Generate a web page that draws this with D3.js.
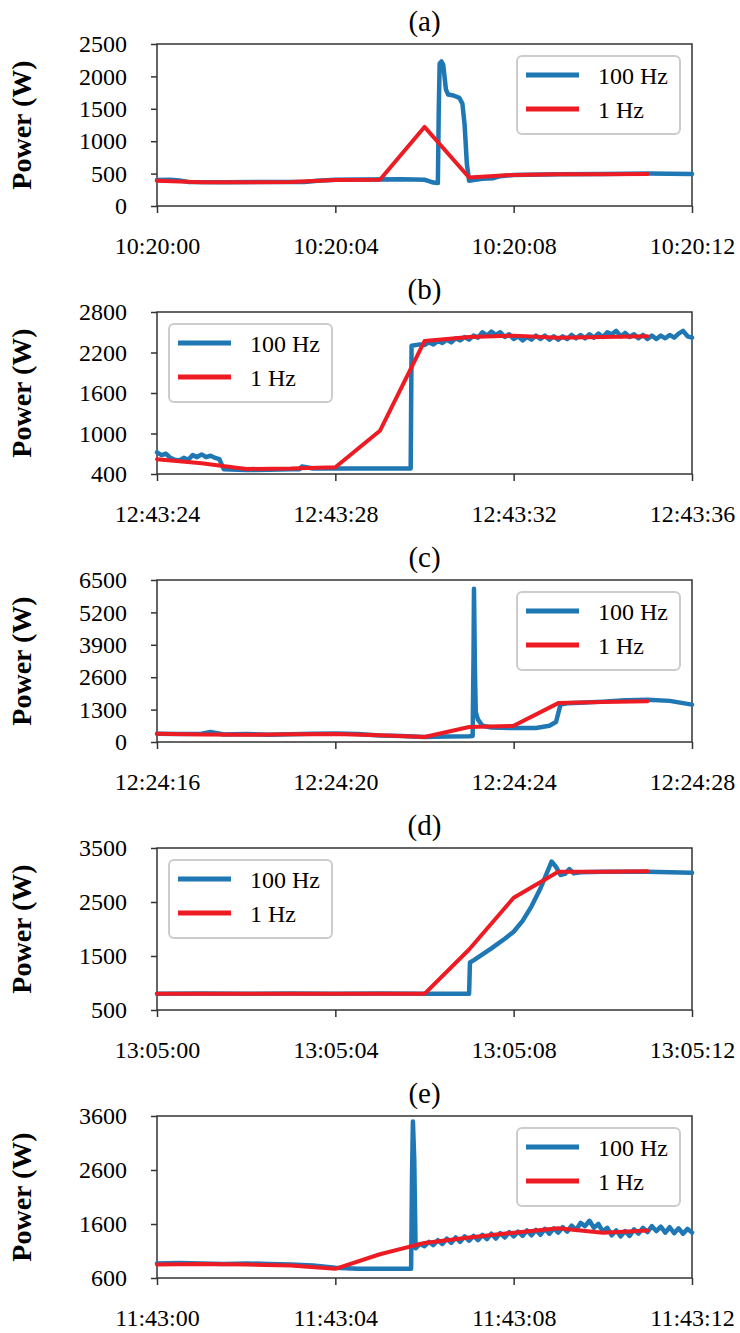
<!DOCTYPE html>
<html>
<head>
<meta charset="utf-8">
<script src="https://cdn.jsdelivr.net/npm/d3@7"></script>
<style>
    body { margin: 0; background: #ffffff; }
    svg { display: block; font-family: "Liberation Serif", "Times New Roman", serif; }
</style>
</head>
<body>
<div id="chart"></div>
<script>
// seconds from first tick, watts
var panelNames = ["(a)", "(b)", "(c)", "(d)", "(e)"];
var seriesNames = ["100 Hz", "1 Hz"];

var aTicksX = ["10:20:00", "10:20:04", "10:20:08", "10:20:12"];
var aTicksY = [0, 500, 1000, 1500, 2000, 2500];
var a100 = [[0, 400], [0.3, 405], [0.5, 395], [0.7, 372], [1.5, 368], [2.5, 370], [3.3, 372], [3.6, 390], [4.0, 405],
    [4.5, 410], [5.5, 412], [6.0, 405], [6.1, 385], [6.2, 362], [6.3, 355], [6.32, 1500], [6.34, 2200], [6.38, 2230],
    [6.42, 2180], [6.48, 1800], [6.53, 1720], [6.65, 1705], [6.78, 1670], [6.85, 1580], [6.9, 1250], [6.95, 650],
    [7.0, 390], [7.1, 400], [7.3, 420], [7.55, 430], [7.7, 460], [8.0, 480], [9.0, 490], [10, 495], [11, 500], [12, 495]];
var a1 = [[0, 390], [1, 365], [2, 365], [3, 370], [4, 400], [5, 405], [6, 1220], [7, 440], [8, 480], [9, 490], [10, 490], [11, 495]];

var bTicksX = ["12:43:24", "12:43:28", "12:43:32", "12:43:36"];
var bTicksY = [400, 1000, 1600, 2200, 2800];
var b100 = [[0, 720], [0.1, 680], [0.2, 700], [0.3, 640], [0.4, 610], [0.5, 600], [0.6, 640], [0.7, 610], [0.8, 680],
    [0.9, 650], [1.0, 690], [1.1, 650], [1.2, 670], [1.3, 640], [1.4, 620], [1.45, 540], [1.5, 470], [2.0, 460],
    [2.5, 462], [3.0, 470], [3.2, 472], [3.25, 510], [3.35, 500], [3.5, 482], [4, 482], [5, 482], [5.69, 482],
    [5.71, 2300], [5.9, 2320],
    [6.0, 2310], [6.1, 2350], [6.2, 2320], [6.3, 2370], [6.4, 2340], [6.5, 2390], [6.6, 2350], [6.7, 2410], [6.8, 2380],
    [6.9, 2430], [7.0, 2390], [7.1, 2450], [7.2, 2420], [7.3, 2500], [7.4, 2450], [7.5, 2510], [7.6, 2460], [7.7, 2500],
    [7.8, 2430], [7.9, 2470], [8.0, 2400], [8.1, 2440], [8.2, 2380], [8.3, 2430], [8.4, 2390], [8.5, 2450], [8.6, 2400],
    [8.7, 2450], [8.8, 2390], [8.9, 2440], [9.0, 2390], [9.1, 2440], [9.2, 2400], [9.3, 2460], [9.4, 2410], [9.5, 2460],
    [9.6, 2410], [9.7, 2470], [9.8, 2420], [9.9, 2480], [10.0, 2430], [10.1, 2500], [10.2, 2470], [10.3, 2520],
    [10.4, 2440], [10.5, 2490], [10.6, 2430], [10.7, 2470], [10.8, 2410], [10.9, 2460], [11.0, 2400], [11.1, 2450],
    [11.2, 2400], [11.3, 2450], [11.4, 2410], [11.5, 2460], [11.6, 2420], [11.7, 2480], [11.8, 2520], [11.9, 2440],
    [12.0, 2420]];
var b1 = [[0, 620], [1, 560], [2, 475], [3, 480], [4, 500], [5, 1040], [6, 2370], [7, 2430], [8, 2450], [9, 2420], [10, 2430], [11, 2440]];

var cTicksX = ["12:24:16", "12:24:20", "12:24:24", "12:24:28"];
var cTicksY = [0, 1300, 2600, 3900, 5200, 6500];
var c100 = [[0, 330], [0.5, 320], [1.0, 330], [1.2, 400], [1.5, 300], [2.0, 320], [2.5, 290], [3.0, 310], [3.5, 330],
    [4.0, 340], [4.5, 320], [5.0, 260], [5.5, 240], [6.0, 200], [6.5, 220], [7.0, 230], [7.08, 240], [7.1, 3500],
    [7.11, 6150], [7.13, 3000], [7.15, 1200], [7.2, 900], [7.3, 650], [7.5, 580], [8.0, 560], [8.5, 560], [8.8, 650],
    [8.95, 800], [9.05, 1500], [9.2, 1550], [9.5, 1570], [10, 1620], [10.5, 1680], [11, 1700], [11.5, 1650], [12, 1500]];
var c1 = [[0, 330], [1, 300], [2, 290], [3, 310], [4, 320], [5, 270], [6, 200], [7, 600], [8, 650], [9, 1560], [10, 1600], [11, 1640]];

var dTicksX = ["13:05:00", "13:05:04", "13:05:08", "13:05:12"];
var dTicksY = [500, 1500, 2500, 3500];
var d100 = [[0, 800], [1, 805], [2, 800], [3, 805], [4, 800], [5, 805], [6, 800], [7.0, 800], [7.02, 1380], [7.1, 1420],
    [7.5, 1640], [7.8, 1820], [8.0, 1950], [8.2, 2150], [8.4, 2420], [8.6, 2750], [8.75, 3050], [8.85, 3250],
    [8.95, 3150], [9.05, 3000], [9.15, 3020], [9.25, 3110], [9.35, 3030], [9.5, 3050], [10, 3060], [11, 3060], [12, 3040]];
var d1 = [[0, 800], [1, 800], [2, 800], [3, 800], [4, 800], [5, 800], [6, 800], [7, 1620], [8, 2580], [9, 3060], [10, 3060], [11, 3070]];

var eTicksX = ["11:43:00", "11:43:04", "11:43:08", "11:43:12"];
var eTicksY = [600, 1600, 2600, 3600];
var e100 = [[0, 870], [0.5, 880], [1, 870], [1.5, 860], [2, 870], [2.5, 860], [3, 850], [3.5, 830], [4, 790], [4.5, 770],
    [5, 770], [5.5, 770], [5.7, 770], [5.72, 2500], [5.74, 3500], [5.77, 2800], [5.8, 1150],
    [5.9, 1230], [6.0, 1190], [6.1, 1270], [6.2, 1210], [6.3, 1300], [6.4, 1230], [6.5, 1330], [6.6, 1250], [6.7, 1350],
    [6.8, 1270], [6.9, 1370], [7.0, 1290], [7.1, 1380], [7.2, 1300], [7.3, 1400], [7.4, 1320], [7.5, 1420], [7.6, 1330],
    [7.7, 1430], [7.8, 1350], [7.9, 1450], [8.0, 1370], [8.1, 1460], [8.2, 1380], [8.3, 1480], [8.4, 1390], [8.5, 1490],
    [8.6, 1400], [8.7, 1510], [8.8, 1420], [8.9, 1520], [9.0, 1440], [9.1, 1540], [9.2, 1460], [9.3, 1570], [9.4, 1490],
    [9.5, 1620], [9.6, 1560], [9.7, 1660], [9.8, 1530], [9.9, 1600], [10.0, 1460], [10.1, 1530], [10.2, 1390],
    [10.3, 1480], [10.4, 1370], [10.5, 1470], [10.6, 1380], [10.7, 1500], [10.8, 1420], [10.9, 1530], [11.0, 1450],
    [11.1, 1560], [11.2, 1470], [11.3, 1550], [11.4, 1440], [11.5, 1540], [11.6, 1430], [11.7, 1520], [11.8, 1420],
    [11.9, 1510], [12.0, 1440]];
var e1 = [[0, 850], [1, 860], [2, 850], [3, 830], [4, 770], [5, 1040], [6, 1250], [7, 1350], [8, 1440], [9, 1520], [10, 1440], [11, 1480]];

var panels = [
    { name: panelNames[0], ticksX: aTicksX, ticksY: aTicksY, hi: a100, lo: a1, legendLeft: false },
    { name: panelNames[1], ticksX: bTicksX, ticksY: bTicksY, hi: b100, lo: b1, legendLeft: true },
    { name: panelNames[2], ticksX: cTicksX, ticksY: cTicksY, hi: c100, lo: c1, legendLeft: false },
    { name: panelNames[3], ticksX: dTicksX, ticksY: dTicksY, hi: d100, lo: d1, legendLeft: true },
    { name: panelNames[4], ticksX: eTicksX, ticksY: eTicksY, hi: e100, lo: e1, legendLeft: false }
];

var width = 740, height = 1333;
var colors = ["#1f77b4", "#ed1c24"];
var lineWidths = [4.5, 4];
var axisColor = "#333333";

var svg = d3.select("#chart").append("svg")
    .attr("width", width)
    .attr("height", height);

svg.append("rect").attr("width", width).attr("height", height).attr("fill", "#ffffff");

var plotLeft = 157, plotRight = 692, plotH = 162, firstTop = 44, step = 268;

panels.forEach(function (p, i) {
    var top = firstTop + i * step;
    var g = svg.append("g").attr("class", "panel").attr("transform", "translate(0," + top + ")");

    var x = d3.scaleLinear().domain([0, 12]).range([plotLeft, plotRight]);
    var y = d3.scaleLinear().domain([p.ticksY[0], p.ticksY[p.ticksY.length - 1]]).range([plotH, 0]);

    // title
    g.append("text")
        .attr("x", (plotLeft + plotRight) / 2)
        .attr("y", -13)
        .attr("text-anchor", "middle")
        .style("font-size", "29px")
        .text(p.name);

    // y axis label
    g.append("text")
        .attr("transform", "translate(31," + (plotH / 2) + ") rotate(-90)")
        .attr("text-anchor", "middle")
        .style("font-size", "28px")
        .style("font-weight", "bold")
        .text("Power (W)");

    // frame
    g.append("rect")
        .attr("x", plotLeft)
        .attr("y", 0)
        .attr("width", plotRight - plotLeft)
        .attr("height", plotH)
        .attr("fill", "none")
        .attr("stroke", axisColor)
        .attr("stroke-width", 1.5);

    var yAxis = d3.axisLeft(y).tickValues(p.ticksY).tickSize(6).tickPadding(24).tickFormat(d3.format("d"));
    var yg = g.append("g").attr("transform", "translate(" + plotLeft + ",0)").call(yAxis);

    var xAxis = d3.axisBottom(x).tickValues([0, 4, 8, 12]).tickSize(7).tickPadding(24)
        .tickFormat(function (d, k) { return p.ticksX[k]; });
    var xg = g.append("g").attr("transform", "translate(0," + plotH + ")").call(xAxis);

    [yg, xg].forEach(function (ax) {
        ax.select(".domain").remove();
        ax.selectAll(".tick line").attr("stroke", axisColor).attr("stroke-width", 1.5);
        ax.selectAll(".tick text")
            .attr("fill", "#000")
            .style("font-family", "'Liberation Serif', 'Times New Roman', serif")
            .style("font-size", "24px");
    });

    var line = d3.line()
        .x(function (d) { return x(d[0]); })
        .y(function (d) { return y(d[1]); });

    [p.hi, p.lo].forEach(function (data, k) {
        g.append("path")
            .datum(data)
            .attr("d", line)
            .attr("fill", "none")
            .attr("stroke", colors[k])
            .attr("stroke-width", lineWidths[k])
            .attr("stroke-linejoin", "round")
            .attr("stroke-linecap", "round");
    });

    // legend
    var lx = p.legendLeft ? 169 : 517;
    var lg = g.append("g").attr("class", "legend").attr("transform", "translate(" + lx + ",12)");
    lg.append("rect")
        .attr("width", 163)
        .attr("height", 78)
        .attr("rx", 5)
        .attr("fill", "#ffffff")
        .attr("stroke", "#cccccc")
        .attr("stroke-width", 2);
    seriesNames.forEach(function (s, k) {
        var ly = 19 + k * 34;
        lg.append("line")
            .attr("x1", 9).attr("x2", 62)
            .attr("y1", ly).attr("y2", ly)
            .attr("stroke", colors[k])
            .attr("stroke-width", 5);
        lg.append("text")
            .attr("x", 81)
            .attr("y", ly + 9)
            .style("font-size", "24px")
            .text(s);
    });
});
</script>
</body>
</html>
